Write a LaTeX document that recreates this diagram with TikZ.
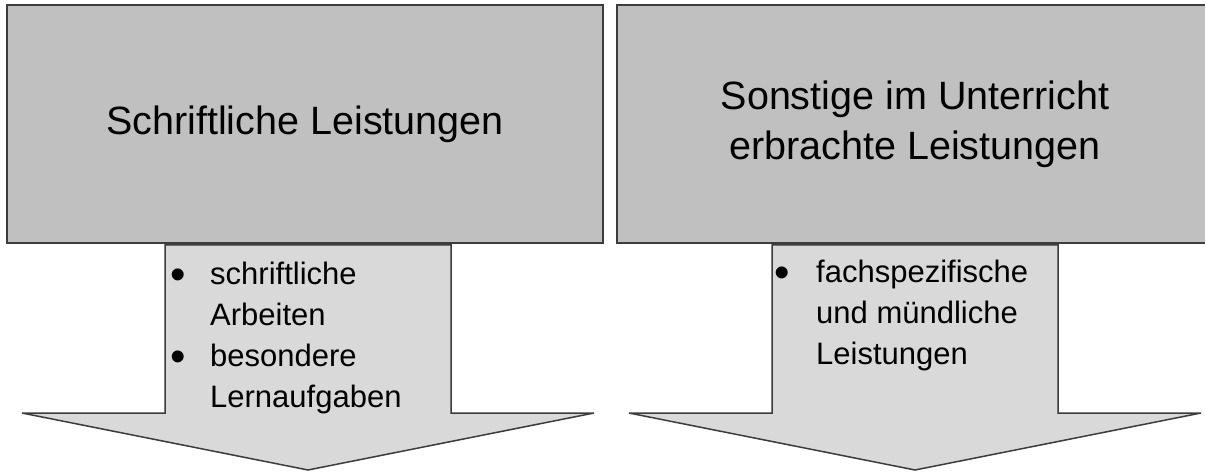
\documentclass[tikz,border=0pt]{standalone}
\usepackage{fontspec}
\setmainfont{Liberation Sans}
\usepackage{array}
\definecolor{boxgray}{HTML}{C0C0C0}
\definecolor{arrowgray}{HTML}{D9D9D9}
\definecolor{edgegray}{HTML}{3C3C3C}
\newcommand{\listdot}{\raisebox{-5pt}{\fontsize{44}{41}\selectfont\textbullet}}
\tikzset{titlebox/.style={draw=edgegray,line width=2pt,fill=boxgray,minimum width=596pt,minimum height=238pt,align=center,font=\fontsize{39.5}{50}\selectfont},
         downarrow/.style={draw=edgegray,line width=1.5pt,fill=arrowgray,line join=miter},
         pointlist/.style={anchor=north west,inner sep=0pt,font=\fontsize{31}{41}\selectfont}}

\begin{document}
\begin{tikzpicture}[x=1pt,y=1pt]
        \useasboundingbox (0,0) rectangle (1205,-473);
        \foreach \c in {308,915}
            \draw[downarrow] (\c-143,-245) -- (\c-143,-413) -- (\c-286,-413) -- (\c,-470)
                -- (\c+286,-413) -- (\c+143,-413) -- (\c+143,-245) -- cycle;
        \node[titlebox] (leftbox) at (305,-124) {Schriftliche Leistungen};
        % right box runs past the page edge
        \node[titlebox,minimum width=620pt] (rightbox) at (927,-124)
            {Sonstige im Unterricht\hspace*{24pt}\\erbrachte Leistungen\hspace*{24pt}};
        \node[pointlist] (leftlist) at (170,-256) {%
            \begin{tabular}{@{}p{40pt}@{}l@{}}
                \listdot & schriftliche\\
                         & Arbeiten\\
                \listdot & besondere\\
                         & Lernaufgaben
            \end{tabular}};
        \node[pointlist] (rightlist) at (774,-254) {%
            \begin{tabular}{@{}p{42pt}@{}l@{}}
                \listdot & fachspezifische\\
                         & und mündliche\\
                         & Leistungen
            \end{tabular}};
    \end{tikzpicture}
\end{document}
